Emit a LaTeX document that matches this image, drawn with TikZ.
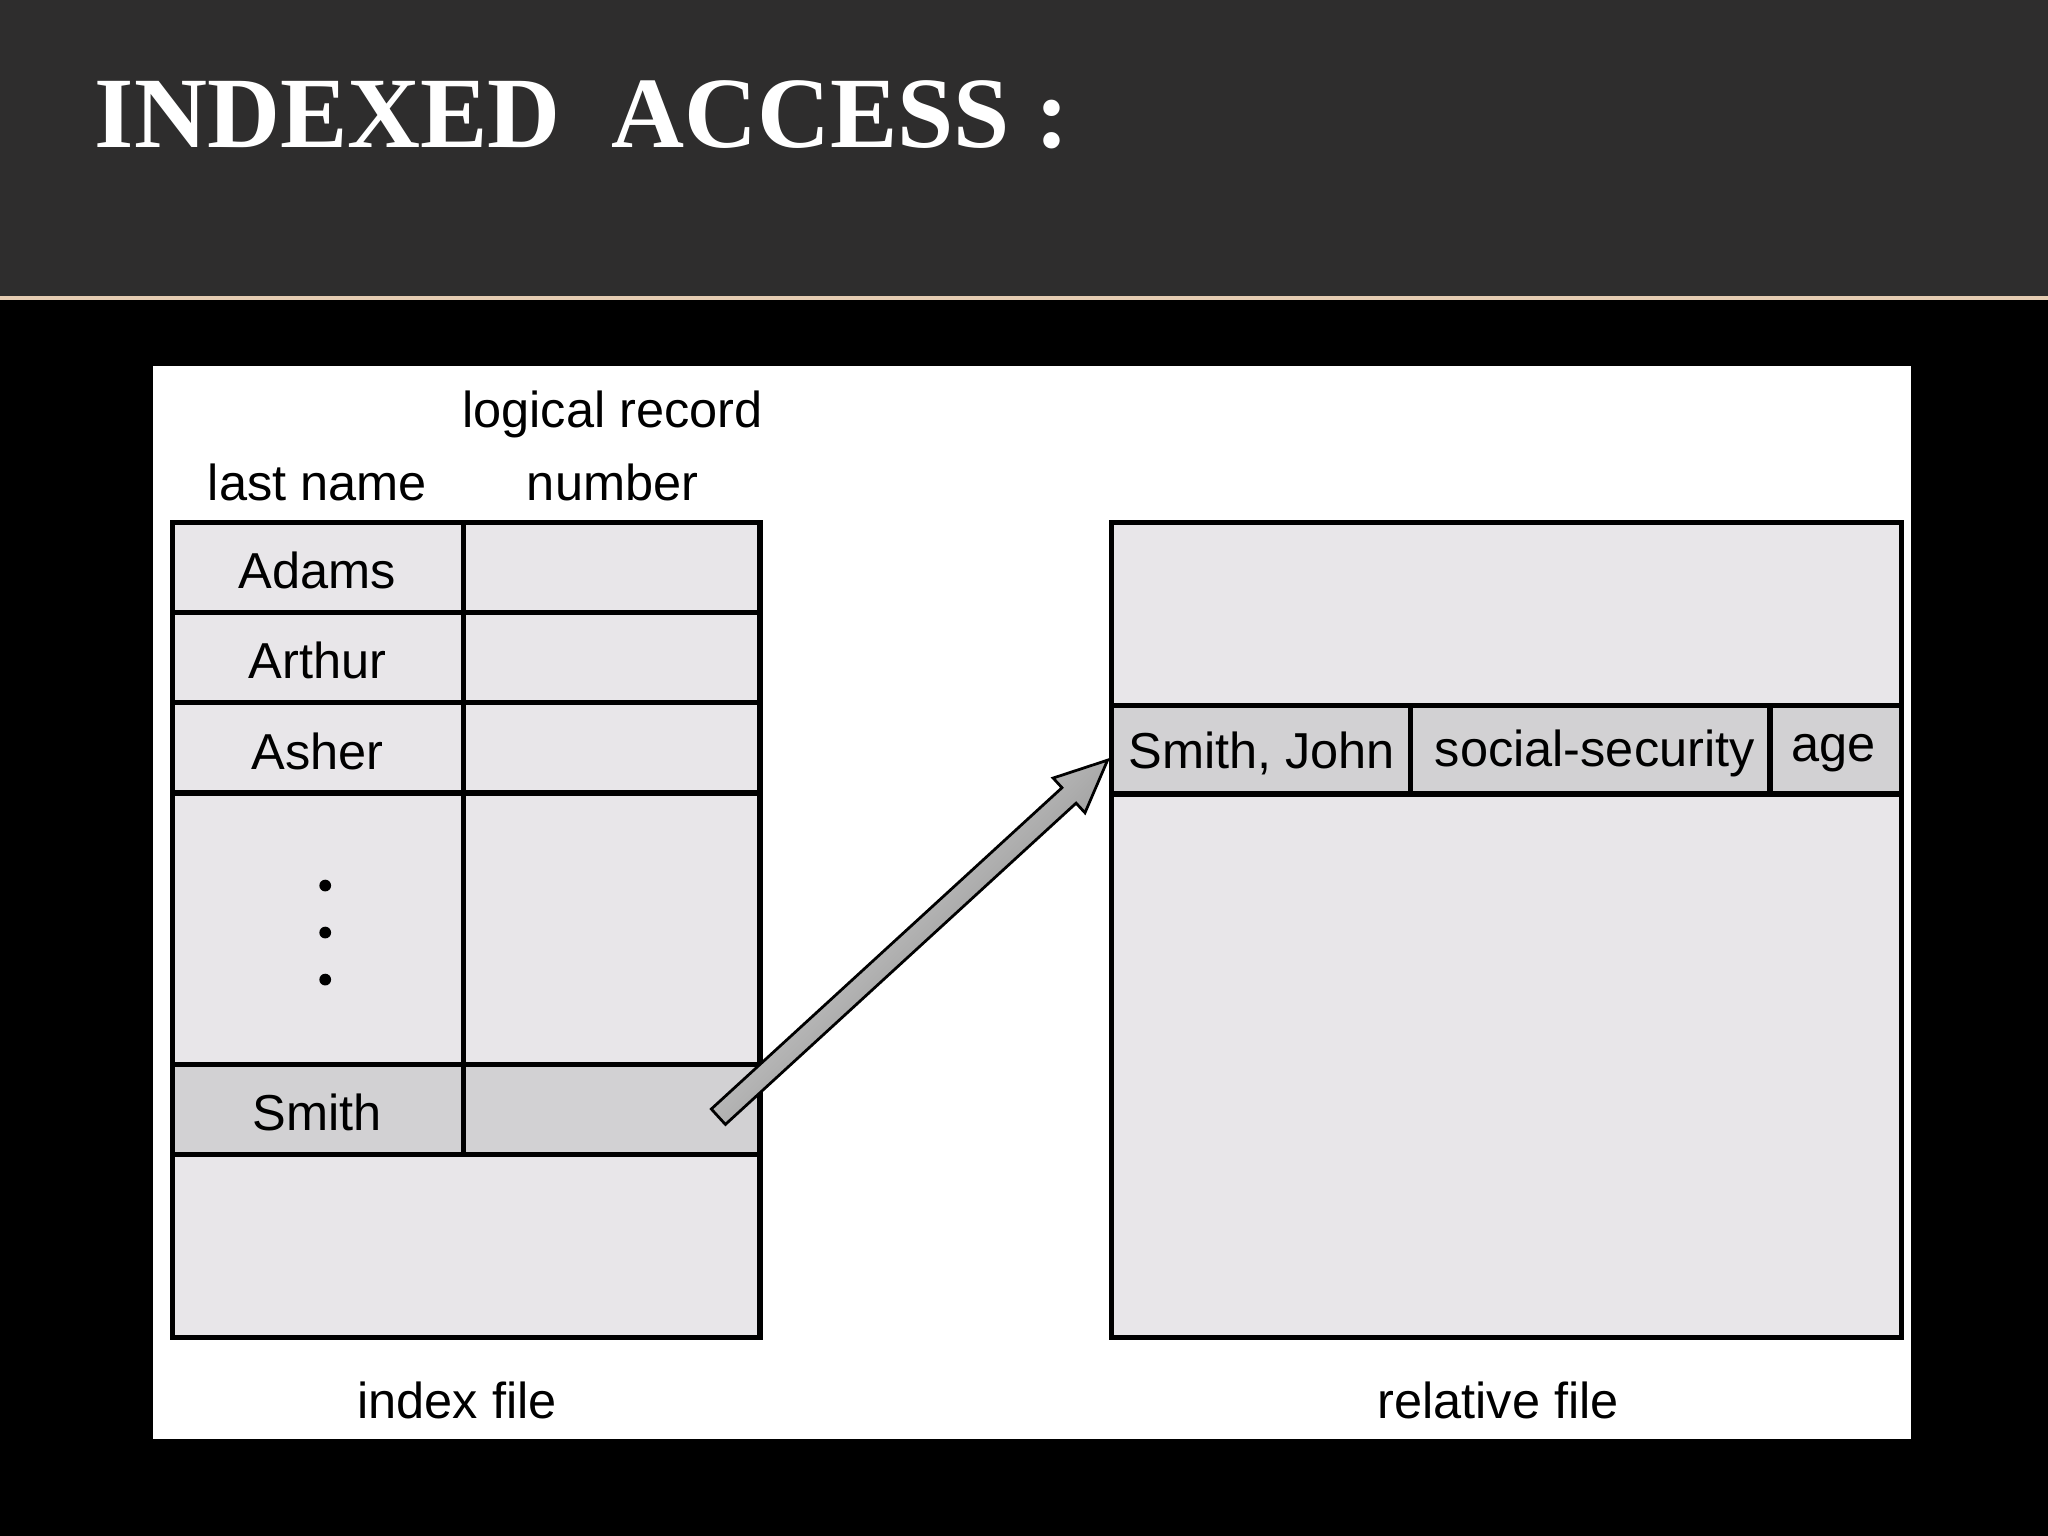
\documentclass[tikz,border=0pt]{standalone}
\usepackage{fontspec}
\setmainfont{Liberation Sans}
\newfontfamily\titlefont{Liberation Serif}
\definecolor{cellfill}{HTML}{E8E6E9}
\definecolor{hifill}{HTML}{D2D1D3}
\definecolor{band}{HTML}{2E2D2D}
\begin{document}
\begin{tikzpicture}[x=0.01cm,y=-0.01cm,
  cell/.style={draw=black,line width=1.2pt,fill=cellfill},
  hicell/.style={draw=black,line width=1.2pt,fill=hifill},
  lbl/.style={font=\fontsize{11pt}{13pt}\selectfont,text=black,inner sep=0pt}]
\useasboundingbox (0,0) rectangle (1568,1176);
\fill[black] (0,0) rectangle (1568,1176);
\fill[band] (0,0) rectangle (1568,228);
\draw[color=brown!40!white,line width=0.8pt] (0,228) -- (1568,228);
\node[anchor=west,text=white,inner sep=0pt,font=\titlefont\bfseries\fontsize{22pt}{26pt}\selectfont] (title) at (72,88) {INDEXED\ \ ACCESS :};
\fill[white] (117,280) rectangle (1463,1102);
% index file
\draw[cell] (132,400) rectangle (355,469);
\draw[cell] (355,400) rectangle (582,469);
\draw[cell] (132,469) rectangle (355,538);
\draw[cell] (355,469) rectangle (582,538);
\draw[cell] (132,538) rectangle (355,607);
\draw[cell] (355,538) rectangle (582,607);
\draw[cell] (132,607) rectangle (355,815);
\draw[cell] (355,607) rectangle (582,815);
\draw[hicell] (132,815) rectangle (355,884);
\draw[hicell] (355,815) rectangle (582,884);
\draw[cell] (132,884) rectangle (582,1024);
\node[lbl] (hln) at (243,369) {last name};
\node[lbl] (hlr) at (469,317) {logical record};
\node[lbl] (hnum) at (469,369) {number};
\node[lbl] (adams) at (243,437) {Adams};
\node[lbl] (arthur) at (243,506) {Arthur};
\node[lbl] (asher) at (243,575) {Asher};
\node[lbl] (smith) at (243,852) {Smith};
\foreach \yy in {678,714,750} \fill (249,\yy) circle (4.5);
\node[lbl] (idx) at (350,1072) {index file};
% relative file
\draw[cell] (851,400) rectangle (1456,1024);
\draw[hicell] (851,540) rectangle (1080,608);
\draw[hicell] (1080,540) rectangle (1355,608);
\draw[hicell] (1355,540) rectangle (1456,608);
\draw[black,line width=1.2pt] (851,400) rectangle (1456,1024);
\node[lbl] (sj) at (966,577) {Smith, John};
\node[lbl] (ss) at (1221,577) {social-security};
\node[lbl] (age) at (1404,577) {age};
\node[lbl] (rel) at (1147,1072) {relative file};
% arrow
\shade[draw=black,line width=0.6pt,left color=white!85!gray,right color=black!55,shading angle=45]
 (555.4,860.9) -- (823.9,614.9) -- (830.7,622.3) -- (848,582) -- (806.3,595.7) -- (813.1,603.1) -- (544.6,849.1) -- cycle;
\end{tikzpicture}
\end{document}
